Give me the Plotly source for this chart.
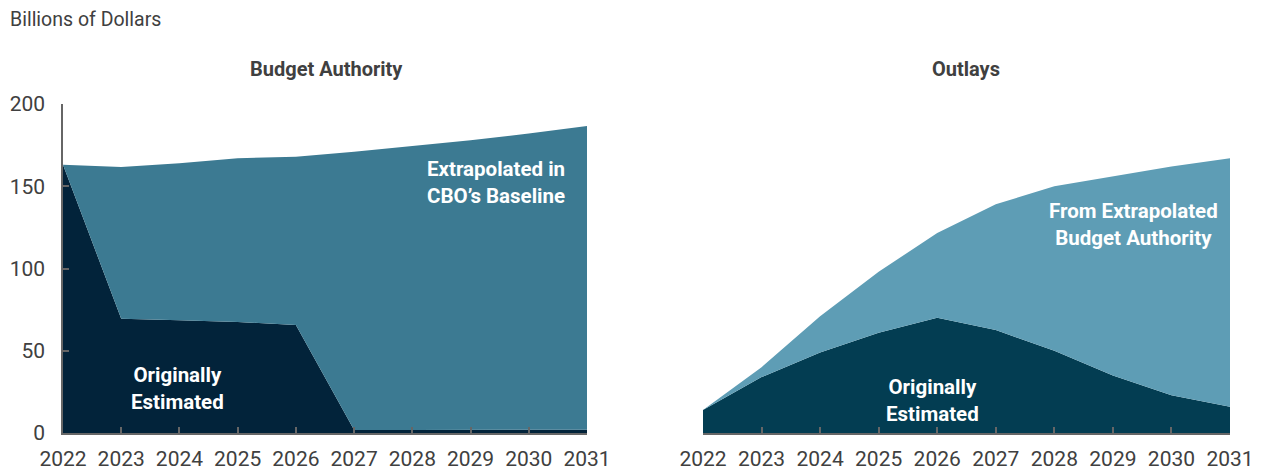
import plotly.graph_objects as go

years = [2022, 2023, 2024, 2025, 2026, 2027, 2028, 2029, 2030, 2031]
ba_original = [163, 69.5, 68.5, 67.5, 65.7, 1.8, 1.8, 1.8, 1.9, 2.0]
ba_total = [163, 161.7, 164, 167, 168, 171, 174.5, 178, 182, 186.6]
out_original = [14, 34, 49, 61, 70, 62.6, 50, 35, 23, 16]
out_total = [14, 40, 71, 98, 121.6, 139, 150, 156, 162, 167]
y_ticks = [0, 50, 100, 150, 200]

FONT = "Roboto, Liberation Sans Narrow, sans-serif"
GRAY = "#404040"

fig = go.Figure()
fig.add_trace(go.Scatter(x=years, y=ba_original, mode="lines", line=dict(width=0),
                         fill="tozeroy", fillcolor="#02233a", xaxis="x", yaxis="y",
                         hoverinfo="skip"))
fig.add_trace(go.Scatter(x=years, y=ba_total, mode="lines", line=dict(width=0),
                         fill="tonexty", fillcolor="#3c7a92", xaxis="x", yaxis="y",
                         hoverinfo="skip"))
fig.add_trace(go.Scatter(x=years, y=out_original, mode="lines", line=dict(width=0),
                         fill="tozeroy", fillcolor="#033d52", xaxis="x2", yaxis="y2",
                         hoverinfo="skip"))
fig.add_trace(go.Scatter(x=years, y=out_total, mode="lines", line=dict(width=0),
                         fill="tonexty", fillcolor="#5e9db5", xaxis="x2", yaxis="y2",
                         hoverinfo="skip"))

ydom = [39 / 472, 368 / 472]
xaxis_common = dict(range=[2022, 2031], tickvals=years, ticks="inside", ticklen=6,
                    tickcolor="#666666", tickwidth=1.5, showline=True, linecolor="#666666",
                    linewidth=1.5, showgrid=False, zeroline=False, automargin=False,
                    ticklabelstandoff=6,
                    tickfont=dict(family=FONT, size=21, color=GRAY))

fig.update_layout(
    width=1263, height=472, margin=dict(l=0, r=0, t=0, b=0, autoexpand=False),
    paper_bgcolor="white", plot_bgcolor="rgba(0,0,0,0)", showlegend=False,
    xaxis=dict(domain=[63 / 1263, 587 / 1263], anchor="y", **xaxis_common),
    xaxis2=dict(domain=[703 / 1263, 1230 / 1263], anchor="y2", **xaxis_common),
    yaxis=dict(domain=ydom, range=[0, 200], tickvals=y_ticks, ticks="inside", ticklen=6,
               tickcolor="#666666", tickwidth=1.5, showline=True, linecolor="#666666",
               linewidth=1.5, showgrid=False, zeroline=False, ticklabelstandoff=12,
               automargin=False,
               tickfont=dict(family=FONT, size=21, color=GRAY), anchor="x"),
    yaxis2=dict(domain=ydom, range=[0, 200], showticklabels=False, ticks="",
                showline=False, showgrid=False, zeroline=False, anchor="x2",
                automargin=False),
    font=dict(family=FONT),
)

annots = [
    dict(x=8, y=19, text="Billions of Dollars", size=19.5, color=GRAY, xanchor="left"),
    dict(x=327, y=69, text="<b>Budget Authority</b>", size=20, color=GRAY),
    dict(x=966, y=69, text="<b>Outlays</b>", size=20, color=GRAY),
    dict(x=177, y=388, text="<b>Originally<br>Estimated</b>", size=20.5, color="white"),
    dict(x=496, y=183, text="<b>Extrapolated in<br>CBO’s Baseline</b>", size=20.5, color="white"),
    dict(x=1133, y=225, text="<b>From Extrapolated<br>Budget Authority</b>", size=20.5, color="white"),
    dict(x=932, y=400, text="<b>Originally<br>Estimated</b>", size=20.5, color="white"),
]
for a in annots:
    fig.add_annotation(x=a["x"] / 1263, y=1 - a["y"] / 472, xref="paper", yref="paper",
                       text=a["text"], showarrow=False, xanchor=a.get("xanchor", "center"),
                       yanchor="middle", align="center",
                       font=dict(family=FONT, size=a["size"], color=a["color"]))

fig.write_html("out.html")
